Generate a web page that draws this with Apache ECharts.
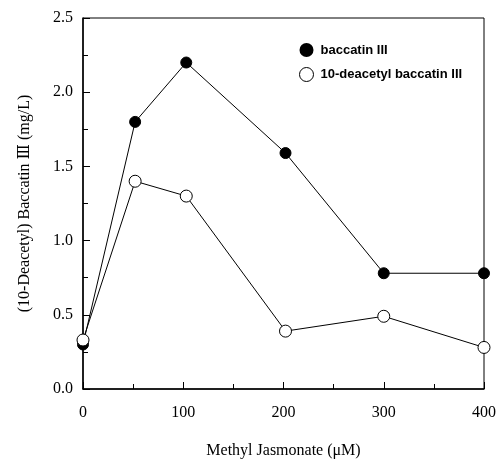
<!DOCTYPE html>
<html><head><meta charset="utf-8">
<script src="https://cdn.jsdelivr.net/npm/echarts@6/dist/echarts.min.js"></script>
<style>html,body{margin:0;padding:0;background:#fff}#c{width:497px;height:461px}</style>
</head><body><div id="c"></div>
<script>
const concentrations = [0, 52, 103, 202, 300, 400];
const baccatin = [0.30, 1.80, 2.20, 1.59, 0.78, 0.78];
const deacetylBaccatin = [0.33, 1.40, 1.30, 0.39, 0.49, 0.28];
const xTicks = [0, 100, 200, 300, 400];
const yTicks = [0.0, 0.5, 1.0, 1.5, 2.0, 2.5];

const serif = '"Liberation Serif","DejaVu Serif",serif';
const chart = echarts.init(document.getElementById('c'));
chart.setOption({
  animation: false,
  backgroundColor: '#fff',
  grid: {left: 83, right: 13, top: 18, bottom: 72, show: true, borderColor: '#000', borderWidth: 1, outerBoundsMode: 'none', containLabel: false},
  legend: {
    orient: 'vertical', left: 294, top: 38, itemGap: 10, itemWidth: 14, itemHeight: 14,
    textStyle: {fontFamily: '"Liberation Sans",Arial,sans-serif', fontWeight: 'bold', fontSize: 13, color: '#000', padding: [0,0,0,2]},
    data: [
      {name: 'baccatin III', icon: 'circle', itemStyle: {color: '#000', borderColor: '#000'}},
      {name: '10-deacetyl baccatin III', icon: 'circle', itemStyle: {color: '#fff', borderColor: '#000', borderWidth: 1}}
    ]
  },
  xAxis: {
    type: 'value', min: xTicks[0], max: xTicks[xTicks.length-1], interval: 100,
    name: 'Methyl Jasmonate (μM)', nameLocation: 'middle', nameGap: 54,
    nameTextStyle: {fontFamily: serif, fontSize: 16, color: '#000'},
    axisLine: {lineStyle: {color: '#000', width: 1.5}},
    axisTick: {inside: true, length: 7, lineStyle: {color: '#000'}},
    minorTick: {show: true, splitNumber: 2, length: 5, lineStyle: {color: '#000'}},
    splitLine: {show: false},
    axisLabel: {fontFamily: serif, fontSize: 16, color: '#000', margin: 16}
  },
  yAxis: {
    type: 'value', min: yTicks[0], max: yTicks[yTicks.length-1], interval: 0.5,
    name: '(10-Deacetyl) Baccatin Ⅲ (mg/L)', nameLocation: 'middle', nameGap: 50,
    nameTextStyle: {fontFamily: serif, fontSize: 16, color: '#000'},
    axisLine: {lineStyle: {color: '#000', width: 1.5}},
    axisTick: {inside: true, length: 7, lineStyle: {color: '#000'}},
    minorTick: {show: true, splitNumber: 2, length: 5, lineStyle: {color: '#000'}},
    splitLine: {show: false},
    axisLabel: {fontFamily: serif, fontSize: 16, color: '#000', margin: 10, formatter: v => v.toFixed(1)}
  },
  series: [
    {name: 'baccatin III', type: 'line', data: concentrations.map((x,i)=>[x, baccatin[i]]),
     symbol: 'circle', symbolSize: 11, lineStyle: {color: '#000', width: 1},
     itemStyle: {color: '#000', borderColor: '#000'}},
    {name: '10-deacetyl baccatin III', type: 'line', data: concentrations.map((x,i)=>[x, deacetylBaccatin[i]]),
     symbol: 'circle', symbolSize: 12, lineStyle: {color: '#000', width: 1},
     itemStyle: {color: '#fff', borderColor: '#000', borderWidth: 1}}
  ]
});
</script></body></html>
